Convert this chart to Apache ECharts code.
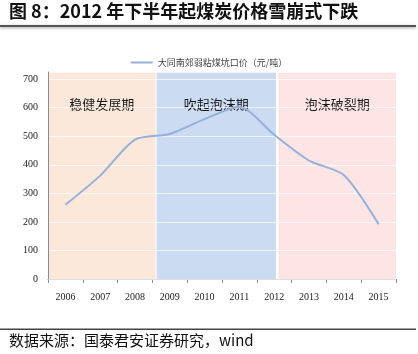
<!DOCTYPE html>
<html>
<head>
<meta charset="utf-8">
<script src="https://cdn.jsdelivr.net/npm/echarts@6/dist/echarts.min.js"></script>
<style>
  html, body { margin: 0; padding: 0; background: #fff; }
  #chart { width: 418px; height: 354px; }
</style>
</head>
<body>
<div id="chart"></div>
<script>
// yearly pit-mouth price, Datong Nanjiao weakly caking coal (yuan/t)
const years = ['2006', '2007', '2008', '2009', '2010', '2011', '2012', '2013', '2014', '2015']
const prices = [260, 362, 488, 508, 560, 603, 505, 415, 364, 192]

// market phases, in year units (category edges sit on .5)
const phaseNames = ['稳健发展期', '吹起泡沫期', '泡沫破裂期']
const phaseStart = [2005.5, 2008.62, 2012.12]
const phaseEnd = [2008.59, 2012.05, 2015.5]
const phaseColors = ['#fce8da', '#cadbf2', '#fde5e5']

const seriesName = '大同南郊弱粘煤坑口价（元/吨）'
const serif = 'Liberation Serif'
const cjk = 'Noto Sans CJK SC'

const chart = echarts.init(document.getElementById('chart'), null, { renderer: 'canvas' })

const bands = phaseNames.map((name, i) => [
  {
    name,
    xAxis: phaseStart[i],
    itemStyle: { color: phaseColors[i] },
  },
  { xAxis: phaseEnd[i] },
])

chart.setOption({
  animation: false,
  backgroundColor: '#fff',
  grid: { left: 48, right: 22, top: 72, bottom: 75 },
  graphic: [
    {
      type: 'text',
      left: 9,
      top: 2,
      style: {
        text: '图 8：2012 年下半年起煤炭价格雪崩式下跌',
        font: 'bold 18px "Noto Sans CJK SC"',
        fill: '#111',
      },
    },
    {
      type: 'rect',
      shape: { x: 0, y: 25, width: 416, height: 2 },
      style: { fill: '#555', shadowBlur: 3, shadowColor: 'rgba(0,0,0,0.4)', shadowOffsetY: 1 },
    },
    {
      type: 'rect',
      shape: { x: 0, y: 328.5, width: 416, height: 1.5 },
      style: { fill: '#444' },
    },
    {
      type: 'text',
      left: 9,
      top: 333,
      style: {
        text: '数据来源：国泰君安证券研究，wind',
        font: '15px "Noto Sans CJK SC"',
        fill: '#111',
      },
    },
  ],
  legend: {
    top: 53,
    left: 'center',
    icon: 'rect',
    itemWidth: 22,
    itemHeight: 2,
    itemGap: 6,
    textStyle: { fontFamily: cjk, fontSize: 9, color: '#444' },
    data: [seriesName],
  },
  xAxis: [
    {
      type: 'category',
      data: years,
      boundaryGap: true,
      axisLine: { lineStyle: { color: '#8c8c8c' } },
      axisTick: { show: true, length: 4, lineStyle: { color: '#8c8c8c' } },
      axisLabel: { fontFamily: serif, fontSize: 10, color: '#222', margin: 13 },
      splitLine: { show: false },
    },
    {
      type: 'value',
      min: 2005.5,
      max: 2015.5,
      show: false,
      splitLine: { show: false },
    },
  ],
  yAxis: {
    type: 'value',
    min: 0,
    max: 725,
    interval: 100,
    z: 2,
    axisLine: { show: true, lineStyle: { color: '#8c8c8c' } },
    axisTick: { show: false },
    axisLabel: { fontFamily: serif, fontSize: 10, color: '#222', margin: 10, showMaxLabel: false },
    splitLine: { show: true, lineStyle: { color: 'rgba(255,255,255,0.7)', width: 1 } },
  },
  series: [
    {
      type: 'line',
      xAxisIndex: 1,
      data: [],
      silent: true,
      markArea: {
        silent: true,
        z: 1,
        label: {
          show: true,
          position: 'insideTop',
          distance: 26,
          fontFamily: cjk,
          fontSize: 13,
          color: '#1a1a1a',
        },
        data: bands,
      },
    },
    {
      name: seriesName,
      type: 'line',
      z: 3,
      data: prices,
      smooth: 0.25,
      showSymbol: false,
      symbol: 'none',
      lineStyle: { color: '#96b0d8', width: 2 },
      itemStyle: { color: '#96b0d8' },
    },
  ],
})
</script>
</body>
</html>
